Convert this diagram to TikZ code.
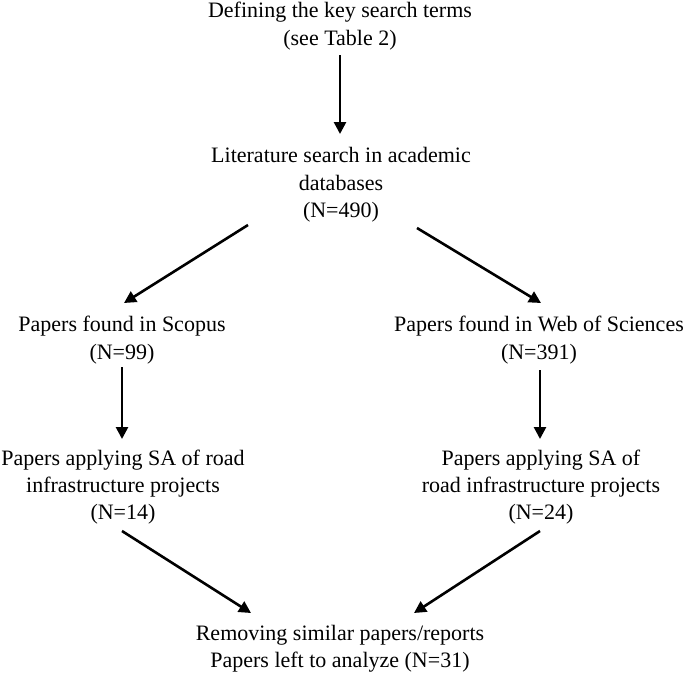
\documentclass[tikz,border=0pt]{standalone}
\usepackage{fontspec}
\setmainfont{Liberation Serif}
\usetikzlibrary{arrows.meta}
\begin{document}
\begin{tikzpicture}[x=1pt,y=-1pt,
  lbl/.style={align=center,inner sep=0pt,font=\fontsize{22}{27.3}\selectfont},
  arr/.style={line width=2.6pt,-{Triangle[length=12pt,width=12pt]}}]
\useasboundingbox (0,0) rectangle (685,673);
\node[lbl] (n1) at (340,26) {Defining the key search terms\\(see Table 2)};
\node[lbl] (n2) at (341,185) {Literature search in academic\\databases\\(N=490)};
\node[lbl] (n3l) at (122,340) {Papers found in Scopus\\(N=99)};
\node[lbl] (n3r) at (539,340) {Papers found in Web of Sciences\\(N=391)};
\node[lbl] (n4l) at (123,487) {Papers applying SA of road\\infrastructure projects\\(N=14)};
\node[lbl] (n4r) at (541,487) {Papers applying SA of\\road infrastructure projects\\(N=24)};
\node[lbl] (n5) at (340,649) {Removing similar papers/reports\\Papers left to analyze (N=31)};
\coordinate (a1s) at (340,55);  \coordinate (a1e) at (340,134);
\coordinate (a2s) at (248,225); \coordinate (a2e) at (124,303);
\coordinate (a3s) at (417,228); \coordinate (a3e) at (541,303);
\coordinate (a4s) at (122,367); \coordinate (a4e) at (122,439);
\coordinate (a5s) at (540,370); \coordinate (a5e) at (540,439);
\coordinate (a6s) at (122,531); \coordinate (a6e) at (251,613);
\coordinate (a7s) at (540,531); \coordinate (a7e) at (414,613);
\draw[arr] (a1s) -- (a1e);
\draw[arr] (a2s) -- (a2e);
\draw[arr] (a3s) -- (a3e);
\draw[arr] (a4s) -- (a4e);
\draw[arr] (a5s) -- (a5e);
\draw[arr] (a6s) -- (a6e);
\draw[arr] (a7s) -- (a7e);
\end{tikzpicture}
\end{document}
